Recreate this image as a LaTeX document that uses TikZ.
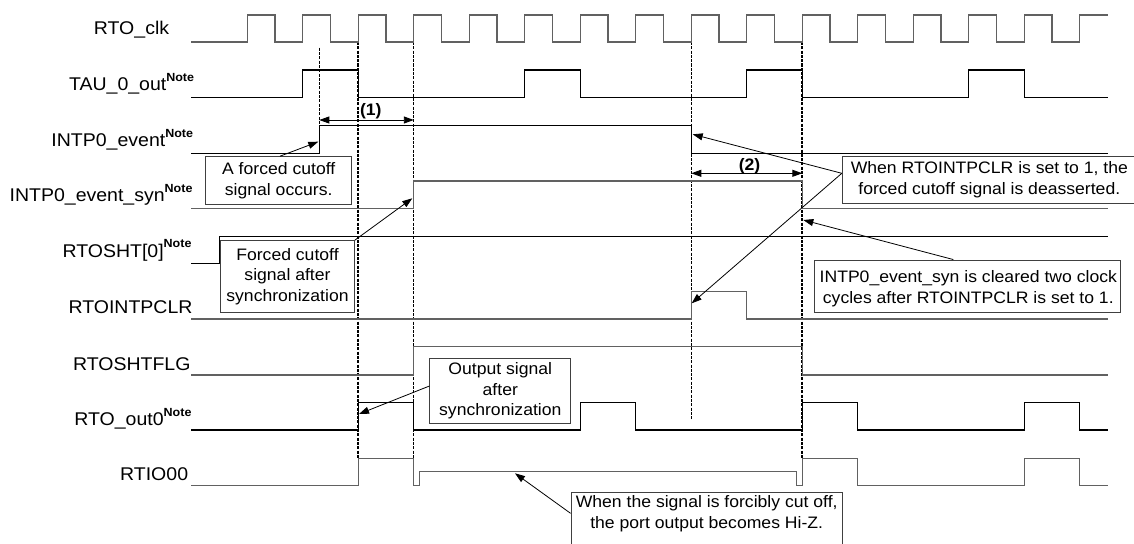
\documentclass[tikz,border=0pt]{standalone}
\usepackage{fontspec}
\setmainfont{Liberation Sans}[FakeStretch=1.06]
\usetikzlibrary{arrows.meta,calc}
\newcommand\notemark{\raisebox{9.5pt}{\fontsize{11.8}{12}\selectfont\bfseries Note}}
\newcommand\lblfont{\fontsize{18.4}{22}\selectfont}
\newcommand\boxfont{\fontsize{16.6}{20.6}\selectfont}
\begin{document}
\begin{tikzpicture}[x=1pt,y=-1pt,
  sig/.style={line width=1.25pt, line join=miter},
  sigk/.style={sig, draw=black},
  sigg/.style={sig, draw=black!62},
  lbl/.style={anchor=base east, inner sep=0pt, font=\lblfont},
  guide/.style={dash pattern=on 3pt off 1.3pt, line width=1pt},
  guideb/.style={guide, line width=2pt},
  annbox/.style={draw=black!75, line width=1pt, fill=white, inner sep=0pt, align=center, font=\boxfont},
  anntext/.style={inner sep=0pt, align=center, font=\boxfont},
  callout/.style={line width=0.8pt, -{Triangle[length=10pt,width=7pt]}},
  dimarrow/.style={line width=0.9pt, {Triangle[length=10pt,width=7pt]}-{Triangle[length=10pt,width=7pt]}},
  dimlbl/.style={anchor=base, inner sep=0pt, font=\fontsize{16.6}{20}\selectfont\bfseries}
]
\useasboundingbox (0,0) rectangle (1134,543);
\clip (0,0) rectangle (1134,543);

% labels
\node[lbl] (lclk) at (169.3,35) {RTO\_clk};
\node[lbl] (ltau) at (194.3,90.7) {TAU\_0\_out\notemark};
\node[lbl] (lev) at (193.3,146.7) {INTP0\_event\notemark};
\node[lbl] (lsyn) at (192.7,201.7) {INTP0\_event\_syn\notemark};
\node[lbl] (lsht) at (191.7,257.3) {RTOSHT[0]\notemark};
\node[lbl] (lclr) at (192.7,313.3) {RTOINTPCLR};
\node[lbl] (lflg) at (190.7,370) {RTOSHTFLG};
\node[lbl] (lout) at (191.7,425.7) {RTO\_out0\notemark};
\node[lbl] (lio) at (188.3,480) {RTIO00};

% dashed guides
\draw[guide] (319.3,47.7) -- (319.3,125.3);
\draw[guideb] (358.3,42) -- (358.3,458.3);
\draw[guide] (413.8,42) -- (413.8,458.3);
\draw[guide] (691.3,42) -- (691.3,420);
\draw[guideb] (802.3,42) -- (802.3,458.3);

% RTO_clk
\draw[sigg] (191,42) -- (247.3,42)
  \foreach \k in {0,...,14} { -- ++(0,-27) -- ++(27.75,0) -- ++(0,27) -- ++(27.75,0) }
  -- ++(0,-27) -- (1107.7,15);

% TAU_0_out
\draw[sigk] (191,97.7) -- (302.8,97.7) -- (302.8,70) -- (358.3,70) -- (358.3,97.7)
  -- (524.8,97.7) -- (524.8,70) -- (580.3,70) -- (580.3,97.7)
  -- (746.8,97.7) -- (746.8,70) -- (802.3,70) -- (802.3,97.7)
  -- (968.8,97.7) -- (968.8,70) -- (1024.3,70) -- (1024.3,97.7) -- (1107.7,97.7);

% INTP0_event
\draw[sigk] (191,153.3) -- (319.3,153.3) -- (319.3,125.3) -- (691.3,125.3) -- (691.3,153.3) -- (1107.7,153.3);

% INTP0_event_syn
\draw[sigg] (191,208.3) -- (413.8,208.3) -- (413.8,181) -- (802.3,181) -- (802.3,208.3) -- (1107.7,208.3);

% RTOSHT[0]
\draw[sigk] (191,263.3) -- (219.3,263.3) -- (219.3,236.7) -- (1107.7,236.7);

% RTOINTPCLR
\draw[sigg] (191,319) -- (691.3,319) -- (691.3,291.7) -- (746.8,291.7) -- (746.8,319) -- (1107.7,319);

% RTOSHTFLG
\draw[sigg] (191,375) -- (413.8,375) -- (413.8,346.7) -- (802.3,346.7) -- (802.3,375) -- (1107.7,375);

% RTO_out0
\draw[sigk] (191,430) -- (358.3,430) -- (358.3,402.7) -- (413.8,402.7) -- (413.8,430)
  -- (580.3,430) -- (580.3,402.7) -- (635.8,402.7) -- (635.8,430)
  -- (802.3,430) -- (802.3,402.7) -- (857.8,402.7) -- (857.8,430)
  -- (1024.3,430) -- (1024.3,402.7) -- (1079.8,402.7) -- (1079.8,430) -- (1107.7,430);

% RTIO00
\draw[sigg] (191,485.7) -- (358.3,485.7) -- (358.3,458.3) -- (413.8,458.3) -- (413.8,485.7)
  -- (419.3,485.7) -- (419.3,471.7) -- (796.7,471.7) -- (796.7,485.7) -- (802.3,485.7)
  -- (802.3,458.3) -- (857.8,458.3) -- (857.8,485.7)
  -- (1024.3,485.7) -- (1024.3,458.3) -- (1079.8,458.3) -- (1079.8,485.7) -- (1107.7,485.7);

% dimension arrows
\coordinate (d1a) at (319.3,120);
\coordinate (d1b) at (413.8,120);
\draw[dimarrow] (d1a) -- (d1b);
\node[dimlbl] (n1) at (370.8,115.4) {(1)};
\coordinate (d2a) at (691.3,173.3);
\coordinate (d2b) at (802.3,173.3);
\draw[dimarrow] (d2a) -- (d2b);
\node[dimlbl] (n2) at (749.5,170.5) {(2)};

% annotation boxes
\node[annbox, minimum width=146pt, minimum height=47.6pt] (bA) at (278.7,180.5) {A forced cutoff\\signal occurs.};
\node[annbox, minimum width=133.6pt, minimum height=71.6pt] (bB) at (287.5,276.5) {Forced cutoff\\signal after\\synchronization};
\node[annbox, minimum width=294pt, minimum height=46.6pt] (bC) at (989.3,180) {When RTOINTPCLR is set to 1, the\\forced cutoff signal is deasserted.};
\node[annbox, minimum width=306.4pt, minimum height=52.3pt] (bD) at (967.5,286.2) {};
\node[anntext] (tD) at (968.3,289) {INTP0\_event\_syn is cleared two clock\\cycles after RTOINTPCLR is set to 1.};
\node[annbox, minimum width=140.7pt, minimum height=65pt] (bE) at (500.3,390.8) {Output signal\\after\\synchronization};
\node[annbox, minimum width=271.3pt, minimum height=60pt, anchor=north] (bF) at (706.7,492.3) {};
\node[anntext] (tF) at (706.7,514) {When the signal is forcibly cut off,\\the port output becomes Hi-Z.};

% callouts
\coordinate (tipA) at (318.3,141.7);
\coordinate (tipB) at (412.3,198.3);
\coordinate (tipC1) at (692.7,134.3);
\coordinate (tipC2) at (691.7,303.3);
\coordinate (tipD) at (803.3,220);
\coordinate (tipE) at (359,414);
\coordinate (tipF) at (515,473.3);
\draw[callout] ($(bA.north)+(1.3,0)$) -- (tipA);
\draw[callout] (bB.north east) -- (tipB);
\draw[callout] ($(bC.west)+(0,-6.7)$) -- (tipC1);
\draw[callout] ($(bC.west)+(0,-6.7)$) -- (tipC2);
\draw[callout] ($(bD.north)+(-14.2,0)$) -- (tipD);
\draw[callout] ($(bE.west)+(0,-4.8)$) -- (tipE);
\draw[callout] ($(bF.north west)+(0,21)$) -- (tipF);
\end{tikzpicture}
\end{document}
